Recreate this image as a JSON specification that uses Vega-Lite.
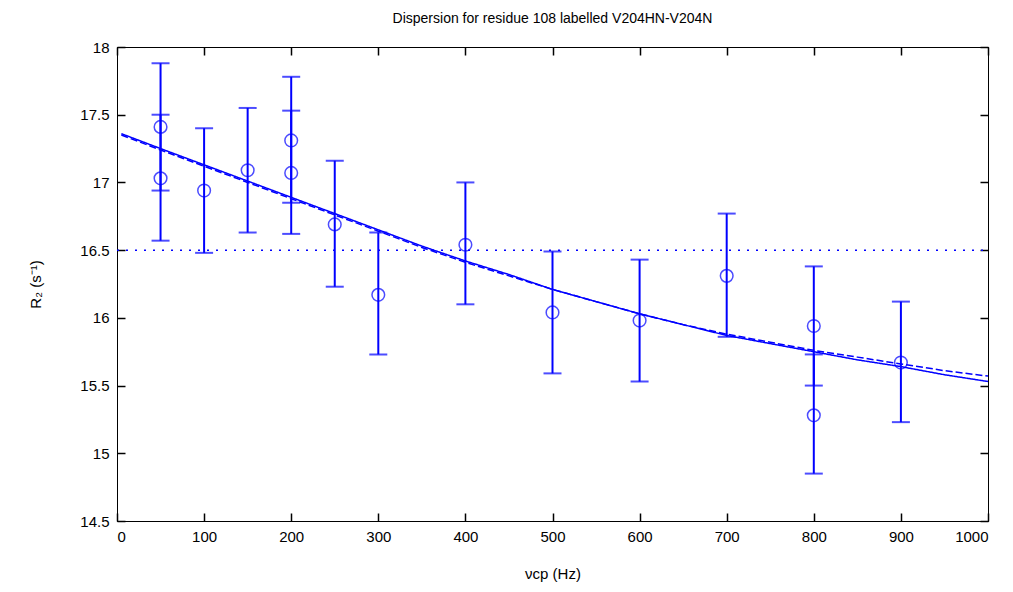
{
  "$schema": "https://vega.github.io/schema/vega-lite/v6.json",
  "width": 871,
  "height": 474,
  "autosize": {"type": "none"},
  "padding": {"left": 117, "top": 47, "right": 25, "bottom": 71},
  "background": "white",
  "title": {"text": "Dispersion for residue 108 labelled V204HN-V204N", "font": "Liberation Sans", "fontSize": 14, "fontWeight": "normal", "color": "black", "offset": 14},
  "config": {
    "view": {"stroke": "black", "strokeWidth": 1},
    "axis": {"labelColor": "black", "labelFont": "Liberation Sans", "labelFontSize": 15, "titleFont": "Liberation Sans", "titleFontSize": 15, "titleFontWeight": "normal", "titleColor": "black"}
  },
  "datasets": {
    "pts": [
      {"v": 50, "r2": 17.41, "lo": 16.94, "hi": 17.88},
      {"v": 50, "r2": 17.03, "lo": 16.57, "hi": 17.50},
      {"v": 100, "r2": 16.94, "lo": 16.48, "hi": 17.40},
      {"v": 150, "r2": 17.09, "lo": 16.63, "hi": 17.55},
      {"v": 200, "r2": 17.31, "lo": 16.85, "hi": 17.78},
      {"v": 200, "r2": 17.07, "lo": 16.62, "hi": 17.53},
      {"v": 250, "r2": 16.69, "lo": 16.23, "hi": 17.16},
      {"v": 300, "r2": 16.17, "lo": 15.73, "hi": 16.63},
      {"v": 400, "r2": 16.54, "lo": 16.10, "hi": 17.00},
      {"v": 500, "r2": 16.04, "lo": 15.59, "hi": 16.49},
      {"v": 600, "r2": 15.98, "lo": 15.53, "hi": 16.43},
      {"v": 700, "r2": 16.31, "lo": 15.86, "hi": 16.77},
      {"v": 800, "r2": 15.94, "lo": 15.50, "hi": 16.38},
      {"v": 800, "r2": 15.28, "lo": 14.85, "hi": 15.73},
      {"v": 900, "r2": 15.67, "lo": 15.23, "hi": 16.12}
    ],
    "fit": [
      {"v": 5, "r2": 17.36, "s": "a"}, {"v": 50, "r2": 17.25, "s": "a"}, {"v": 100, "r2": 17.13, "s": "a"},
      {"v": 150, "r2": 17.01, "s": "a"}, {"v": 200, "r2": 16.89, "s": "a"}, {"v": 250, "r2": 16.77, "s": "a"},
      {"v": 300, "r2": 16.65, "s": "a"}, {"v": 350, "r2": 16.53, "s": "a"}, {"v": 400, "r2": 16.42, "s": "a"},
      {"v": 450, "r2": 16.32, "s": "a"}, {"v": 500, "r2": 16.21, "s": "a"}, {"v": 550, "r2": 16.12, "s": "a"},
      {"v": 600, "r2": 16.03, "s": "a"}, {"v": 650, "r2": 15.95, "s": "a"}, {"v": 700, "r2": 15.87, "s": "a"},
      {"v": 750, "r2": 15.81, "s": "a"}, {"v": 800, "r2": 15.75, "s": "a"}, {"v": 850, "r2": 15.69, "s": "a"},
      {"v": 900, "r2": 15.64, "s": "a"}, {"v": 950, "r2": 15.58, "s": "a"}, {"v": 1000, "r2": 15.53, "s": "a"},
      {"v": 5, "r2": 17.35, "s": "b"}, {"v": 50, "r2": 17.24, "s": "b"}, {"v": 100, "r2": 17.12, "s": "b"},
      {"v": 150, "r2": 17.00, "s": "b"}, {"v": 200, "r2": 16.88, "s": "b"}, {"v": 250, "r2": 16.76, "s": "b"},
      {"v": 300, "r2": 16.64, "s": "b"}, {"v": 350, "r2": 16.52, "s": "b"}, {"v": 400, "r2": 16.41, "s": "b"},
      {"v": 450, "r2": 16.31, "s": "b"}, {"v": 500, "r2": 16.21, "s": "b"}, {"v": 550, "r2": 16.12, "s": "b"},
      {"v": 600, "r2": 16.03, "s": "b"}, {"v": 650, "r2": 15.95, "s": "b"}, {"v": 700, "r2": 15.88, "s": "b"},
      {"v": 750, "r2": 15.82, "s": "b"}, {"v": 800, "r2": 15.76, "s": "b"}, {"v": 850, "r2": 15.71, "s": "b"},
      {"v": 900, "r2": 15.66, "s": "b"}, {"v": 950, "r2": 15.61, "s": "b"}, {"v": 1000, "r2": 15.57, "s": "b"}
    ],
    "ref": [{"v": 0, "r2": 16.5}, {"v": 1000, "r2": 16.5}]
  },
  "resolve": {"axis": {"x": "independent", "y": "independent"}},
  "layer": [
    {
      "data": {"name": "ref"},
      "mark": {"type": "line", "color": "#0000ff", "strokeWidth": 1.5, "strokeDash": [2, 7]},
      "encoding": {
        "x": {"field": "v", "type": "quantitative", "scale": {"domain": [0, 1000], "nice": false, "zero": false},
              "axis": {"orient": "bottom", "tickCount": 10, "format": "d", "grid": false, "tickColor": "black", "tickSize": -8, "tickWidth": 1.5, "domainColor": "black", "labelPadding": 16, "title": "νcp (Hz)", "titlePadding": 22}},
        "y": {"field": "r2", "type": "quantitative", "scale": {"domain": [14.5, 18], "nice": false, "zero": false},
              "axis": {"orient": "left", "tickCount": 7, "format": "~g", "grid": false, "tickColor": "black", "tickSize": -8, "tickWidth": 1.5, "domainColor": "black", "labelPadding": 16, "title": "R₂ (s⁻¹)", "titlePadding": 36}}
      }
    },
    {
      "data": {"name": "ref"},
      "mark": {"type": "point", "opacity": 0},
      "encoding": {
        "x": {"field": "v", "type": "quantitative", "axis": {"orient": "top", "tickCount": 10, "grid": false, "labels": false, "tickColor": "black", "tickSize": -8, "tickWidth": 1.5, "title": null, "domainColor": "black"}},
        "y": {"field": "r2", "type": "quantitative", "axis": {"orient": "right", "tickCount": 7, "grid": false, "labels": false, "tickColor": "black", "tickSize": -8, "tickWidth": 1.5, "title": null, "domainColor": "black"}}
      }
    },
    {
      "data": {"name": "fit"},
      "mark": {"type": "line", "color": "#0000ff", "strokeWidth": 1.5},
      "encoding": {
        "x": {"field": "v", "type": "quantitative", "axis": null},
        "y": {"field": "r2", "type": "quantitative", "axis": null},
        "detail": {"field": "s"},
        "strokeDash": {"field": "s", "type": "nominal", "scale": {"domain": ["a", "b"], "range": [[1, 0], [7, 3]]}, "legend": null}
      }
    },
    {
      "data": {"name": "pts"},
      "mark": {"type": "rule", "color": "#0000ff", "strokeWidth": 2},
      "encoding": {
        "x": {"field": "v", "type": "quantitative", "axis": null},
        "y": {"field": "lo", "type": "quantitative", "axis": null},
        "y2": {"field": "hi"}
      }
    },
    {
      "data": {"name": "pts"},
      "mark": {"type": "tick", "color": "#0000ff", "orient": "horizontal", "size": 18, "thickness": 2},
      "encoding": {
        "x": {"field": "v", "type": "quantitative", "axis": null},
        "y": {"field": "lo", "type": "quantitative", "axis": null}
      }
    },
    {
      "data": {"name": "pts"},
      "mark": {"type": "tick", "color": "#0000ff", "orient": "horizontal", "size": 18, "thickness": 2},
      "encoding": {
        "x": {"field": "v", "type": "quantitative", "axis": null},
        "y": {"field": "hi", "type": "quantitative", "axis": null}
      }
    },
    {
      "data": {"name": "pts"},
      "mark": {"type": "point", "shape": "circle", "filled": false, "color": "#0000ff", "size": 160, "strokeWidth": 1.5},
      "encoding": {
        "x": {"field": "v", "type": "quantitative", "axis": null},
        "y": {"field": "r2", "type": "quantitative", "axis": null}
      }
    }
  ]
}
